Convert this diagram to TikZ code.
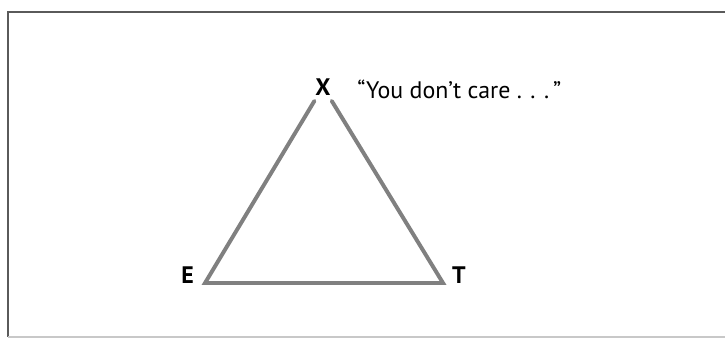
\documentclass[tikz,border=0pt]{standalone}
\usepackage{fontspec}
\setmainfont{PT Sans}
\definecolor{edgegray}{RGB}{128,128,128}
\definecolor{framegray}{RGB}{90,90,90}
\definecolor{lightframe}{RGB}{200,200,200}

\begin{document}
\begin{tikzpicture}[lbl/.style={font=\fontsize{17}{20}\selectfont\bfseries, inner sep=0pt}]
	\useasboundingbox (0, 0) rectangle (18.125, 8.45);
	\draw [framegray, line width=1.5pt] (0.2, 0.03) -- (0.2, 8.15) -- (18.3, 8.15);
	\draw [lightframe, line width=1pt] (0.2, 0.03) -- (18.3, 0.03);
	\coordinate (e) at (5.125, 1.375);
	\coordinate (t) at (11.075, 1.375);
	\node [lbl, anchor=base, inner sep=4pt] (X) at (8.075, 6.075) {X};
	\node [lbl, anchor=base east] (E) at ([xshift=-0.27cm]e) {E};
	\node [lbl, anchor=base west] (T) at ([xshift=0.22cm]t) {T};
	\node [anchor=base west, font=\fontsize{17}{20}\selectfont, inner sep=0pt] (quote) at (8.925, 6.0) {“You don’t care . . .\,”};
	\draw [edgegray, line width=2.8pt, line cap=round] (X) -- (e) -- (t) -- (X);
\end{tikzpicture}
\end{document}
